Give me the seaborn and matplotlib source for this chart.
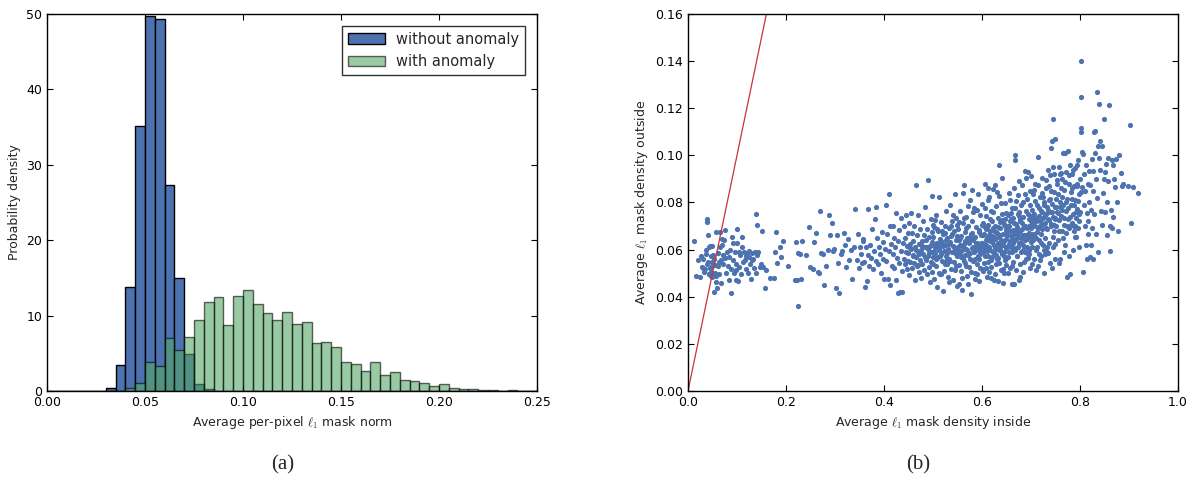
import numpy as np
import pandas as pd
import seaborn as sns
import matplotlib
matplotlib.use("Agg")
import matplotlib.pyplot as plt
from matplotlib.patches import Patch

# histogram (a): density per bin of width 0.005 between 0 and 0.25
bin_edges = np.linspace(0.0, 0.25, 51)
without_anomaly = [0, 0, 0, 0, 0, 0, 0.4, 3.4, 13.8, 35.2,
                   49.8, 49.4, 27.3, 15.0, 4.9, 0.9, 0.3, 0, 0, 0,
                   0, 0, 0, 0, 0, 0, 0, 0, 0, 0,
                   0, 0, 0, 0, 0, 0, 0, 0, 0, 0,
                   0, 0, 0, 0, 0, 0, 0, 0, 0, 0]
with_anomaly = [0, 0, 0, 0, 0, 0, 0, 0, 0.4, 1.1,
                3.9, 3.3, 7.0, 5.4, 7.1, 9.4, 11.8, 12.5, 8.8, 12.6,
                13.4, 11.6, 10.4, 9.4, 10.5, 8.9, 9.2, 6.4, 6.5, 5.9,
                3.8, 3.6, 2.6, 3.9, 2.1, 2.5, 1.5, 1.3, 1.0, 0.7,
                0.9, 0.4, 0.3, 0.3, 0.1, 0.15, 0.05, 0.15, 0.05, 0]

pts_000 = [(0.013, 0.0635), (0.016, 0.0490), (0.024, 0.0484), (0.030, 0.0562), (0.031, 0.0523),
           (0.035, 0.0518), (0.038, 0.0729), (0.038, 0.0716), (0.040, 0.0664), (0.041, 0.0549),
           (0.042, 0.0612), (0.043, 0.0496), (0.045, 0.0614), (0.046, 0.0488), (0.047, 0.0507),
           (0.048, 0.0617), (0.049, 0.0482), (0.050, 0.0530), (0.044, 0.0521), (0.036, 0.0600),
           (0.027, 0.0575), (0.020, 0.0558), (0.033, 0.0505), (0.039, 0.0540), (0.046, 0.0575),
           (0.049, 0.0502), (0.042, 0.0497), (0.048, 0.0548), (0.037, 0.0582), (0.029, 0.0525)]
pts_005 = [(0.052, 0.0577), (0.053, 0.0560), (0.054, 0.0420), (0.055, 0.0533), (0.056, 0.0499),
           (0.057, 0.0462), (0.058, 0.0676), (0.058, 0.0489), (0.060, 0.0437), (0.061, 0.0531),
           (0.062, 0.0587), (0.063, 0.0498), (0.064, 0.0549), (0.065, 0.0675), (0.066, 0.0609),
           (0.067, 0.0555), (0.068, 0.0460), (0.069, 0.0647), (0.070, 0.0619), (0.071, 0.0579),
           (0.072, 0.0538), (0.074, 0.0640), (0.075, 0.0682), (0.076, 0.0566), (0.078, 0.0499),
           (0.080, 0.0589), (0.081, 0.0532), (0.083, 0.0568), (0.084, 0.0471), (0.086, 0.0600),
           (0.087, 0.0516), (0.088, 0.0416), (0.090, 0.0655), (0.091, 0.0626), (0.092, 0.0556),
           (0.094, 0.0500), (0.095, 0.0592), (0.097, 0.0472), (0.098, 0.0540), (0.099, 0.0515)]
pts_010 = [(0.100, 0.0686), (0.101, 0.0628), (0.102, 0.0466), (0.104, 0.0590), (0.105, 0.0528),
           (0.107, 0.0579), (0.108, 0.0495), (0.110, 0.0654), (0.111, 0.0611), (0.112, 0.0548),
           (0.114, 0.0592), (0.116, 0.0558), (0.118, 0.0573), (0.119, 0.0516), (0.120, 0.0585),
           (0.122, 0.0502), (0.124, 0.0596), (0.125, 0.0567), (0.127, 0.0538), (0.128, 0.0474),
           (0.130, 0.0554), (0.131, 0.0586), (0.133, 0.0562), (0.135, 0.0520), (0.137, 0.0588),
           (0.138, 0.0499), (0.139, 0.0752), (0.140, 0.0703), (0.141, 0.0577), (0.143, 0.0589),
           (0.146, 0.0527), (0.149, 0.0540)]
pts_015 = [(0.152, 0.0680), (0.154, 0.0525), (0.157, 0.0435), (0.160, 0.0514), (0.168, 0.0480),
           (0.176, 0.0478), (0.178, 0.0592), (0.180, 0.0676), (0.182, 0.0543), (0.188, 0.0612),
           (0.190, 0.0570), (0.193, 0.0638),
           (0.205, 0.0530), (0.218, 0.0473), (0.220, 0.0632), (0.222, 0.0469), (0.224, 0.0362),
           (0.225, 0.0586), (0.228, 0.0580), (0.230, 0.0477), (0.232, 0.0638), (0.240, 0.0576),
           (0.246, 0.0694), (0.248, 0.0526)]
pts_025 = [(0.255, 0.0518), (0.258, 0.0633), (0.262, 0.0672), (0.265, 0.0505), (0.268, 0.0500),
           (0.270, 0.0764), (0.272, 0.0586), (0.275, 0.0583), (0.278, 0.0448), (0.282, 0.0529),
           (0.285, 0.0600), (0.287, 0.0745), (0.290, 0.0663), (0.293, 0.0711), (0.296, 0.0594),
           (0.298, 0.0602),
           (0.302, 0.0435), (0.304, 0.0660), (0.306, 0.0542), (0.309, 0.0418), (0.312, 0.0583),
           (0.315, 0.0595), (0.318, 0.0672), (0.320, 0.0620), (0.323, 0.0526), (0.326, 0.0644),
           (0.328, 0.0556), (0.332, 0.0599), (0.335, 0.0476), (0.338, 0.0610), (0.341, 0.0774),
           (0.344, 0.0555), (0.347, 0.0668), (0.349, 0.0520)]
pts_035 = [(0.351, 0.0612), (0.353, 0.0580), (0.355, 0.0545), (0.357, 0.0646), (0.358, 0.0636),
           (0.360, 0.0548), (0.361, 0.0442), (0.363, 0.0609), (0.365, 0.0468), (0.367, 0.0576),
           (0.368, 0.0773), (0.370, 0.0532), (0.372, 0.0620), (0.374, 0.0564), (0.376, 0.0687),
           (0.377, 0.0519), (0.379, 0.0595), (0.381, 0.0728), (0.383, 0.0553), (0.384, 0.0781),
           (0.386, 0.0648), (0.388, 0.0540), (0.390, 0.0610), (0.392, 0.0580), (0.394, 0.0500),
           (0.395, 0.0675), (0.397, 0.0631), (0.399, 0.0562)]
pts_040 = [(0.401, 0.0477), (0.402, 0.0603), (0.404, 0.0791), (0.405, 0.0551), (0.407, 0.0666),
           (0.408, 0.0476), (0.410, 0.0838), (0.411, 0.0594), (0.412, 0.0700), (0.413, 0.0449),
           (0.415, 0.0624), (0.416, 0.0532), (0.418, 0.0702), (0.419, 0.0583), (0.420, 0.0650),
           (0.421, 0.0522), (0.423, 0.0612), (0.424, 0.0473), (0.425, 0.0757), (0.426, 0.0565),
           (0.428, 0.0417), (0.429, 0.0638), (0.430, 0.0545), (0.431, 0.0682), (0.432, 0.0420),
           (0.434, 0.0595), (0.435, 0.0734), (0.436, 0.0508), (0.437, 0.0419), (0.438, 0.0626),
           (0.440, 0.0560), (0.441, 0.0700), (0.442, 0.0538), (0.443, 0.0648), (0.444, 0.0589),
           (0.445, 0.0746), (0.446, 0.0517), (0.447, 0.0616), (0.448, 0.0552), (0.449, 0.0670)]
pts_045 = [(0.450, 0.0586), (0.451, 0.0711), (0.452, 0.0493), (0.453, 0.0623), (0.454, 0.0548),
           (0.455, 0.0755), (0.456, 0.0603), (0.457, 0.0521), (0.458, 0.0672), (0.459, 0.0577),
           (0.460, 0.0638), (0.461, 0.0545), (0.462, 0.0701), (0.463, 0.0469), (0.464, 0.0612),
           (0.465, 0.0567), (0.466, 0.0874), (0.467, 0.0532), (0.468, 0.0660), (0.469, 0.0591),
           (0.470, 0.0748), (0.471, 0.0504), (0.472, 0.0625), (0.473, 0.0558), (0.474, 0.0689),
           (0.475, 0.0478), (0.476, 0.0597), (0.477, 0.0637), (0.478, 0.0540), (0.479, 0.0720),
           (0.480, 0.0582), (0.481, 0.0662), (0.482, 0.0512), (0.483, 0.0609), (0.484, 0.0783),
           (0.485, 0.0556), (0.486, 0.0640), (0.487, 0.0495), (0.488, 0.0687), (0.489, 0.0574),
           (0.490, 0.0896), (0.490, 0.0603), (0.491, 0.0528), (0.492, 0.0652), (0.493, 0.0461),
           (0.494, 0.0617), (0.495, 0.0730), (0.495, 0.0549), (0.496, 0.0588), (0.497, 0.0676),
           (0.497, 0.0505), (0.498, 0.0632), (0.498, 0.0826), (0.499, 0.0567), (0.499, 0.0705),
           (0.466, 0.0598), (0.472, 0.0580), (0.478, 0.0616), (0.484, 0.0568), (0.488, 0.0612),
           (0.492, 0.0584), (0.496, 0.0620), (0.460, 0.0573), (0.454, 0.0608), (0.470, 0.0535)]
pts_050 = [(0.500, 0.0655), (0.501, 0.0540), (0.502, 0.0698), (0.503, 0.0476), (0.504, 0.0612),
           (0.505, 0.0587), (0.506, 0.0749), (0.507, 0.0531), (0.508, 0.0630), (0.509, 0.0442),
           (0.510, 0.0681), (0.511, 0.0568), (0.512, 0.0605), (0.513, 0.0823), (0.514, 0.0497),
           (0.515, 0.0644), (0.516, 0.0581), (0.517, 0.0719), (0.518, 0.0553), (0.519, 0.0626),
           (0.520, 0.0425), (0.521, 0.0667), (0.522, 0.0594), (0.523, 0.0510), (0.524, 0.0702),
           (0.525, 0.0618), (0.526, 0.0575), (0.527, 0.0764), (0.528, 0.0537), (0.529, 0.0649),
           (0.530, 0.0485), (0.531, 0.0601), (0.532, 0.0690), (0.533, 0.0560), (0.534, 0.0633),
           (0.535, 0.0791), (0.536, 0.0519), (0.537, 0.0658), (0.538, 0.0589), (0.539, 0.0722),
           (0.540, 0.0470), (0.541, 0.0614), (0.542, 0.0677), (0.543, 0.0546), (0.544, 0.0600),
           (0.545, 0.0838), (0.546, 0.0529), (0.547, 0.0642), (0.548, 0.0572), (0.549, 0.0706),
           (0.550, 0.0444), (0.502, 0.0593), (0.506, 0.0562), (0.510, 0.0620), (0.514, 0.0574),
           (0.518, 0.0680), (0.522, 0.0548), (0.526, 0.0640), (0.530, 0.0597), (0.534, 0.0552),
           (0.538, 0.0666), (0.542, 0.0610), (0.546, 0.0583), (0.504, 0.0725), (0.512, 0.0502),
           (0.520, 0.0615), (0.528, 0.0585), (0.536, 0.0699), (0.544, 0.0512), (0.548, 0.0656),
           (0.508, 0.0566), (0.516, 0.0636), (0.524, 0.0540), (0.532, 0.0625), (0.540, 0.0588),
           (0.547, 0.0735), (0.501, 0.0628), (0.509, 0.0688), (0.517, 0.0495), (0.525, 0.0672),
           (0.533, 0.0461), (0.541, 0.0748), (0.549, 0.0600), (0.513, 0.0600), (0.529, 0.0560)]
pts_055 = [(0.551, 0.0612), (0.552, 0.0687), (0.553, 0.0535), (0.554, 0.0640), (0.555, 0.0582),
           (0.556, 0.0762), (0.557, 0.0510), (0.558, 0.0659), (0.559, 0.0597), (0.560, 0.0428),
           (0.561, 0.0711), (0.562, 0.0566), (0.563, 0.0624), (0.564, 0.0873), (0.565, 0.0544),
           (0.566, 0.0676), (0.567, 0.0603), (0.568, 0.0738), (0.569, 0.0487), (0.570, 0.0648),
           (0.571, 0.0579), (0.572, 0.0700), (0.573, 0.0525), (0.574, 0.0630), (0.575, 0.0810),
           (0.576, 0.0561), (0.577, 0.0668), (0.578, 0.0410), (0.579, 0.0606), (0.580, 0.0722),
           (0.581, 0.0553), (0.582, 0.0641), (0.583, 0.0588), (0.584, 0.0776), (0.585, 0.0500),
           (0.586, 0.0655), (0.587, 0.0617), (0.588, 0.0695), (0.589, 0.0540), (0.590, 0.0630),
           (0.591, 0.0837), (0.592, 0.0573), (0.593, 0.0682), (0.594, 0.0466), (0.595, 0.0614),
           (0.596, 0.0747), (0.597, 0.0592), (0.598, 0.0663), (0.599, 0.0518), (0.600, 0.0706),
           (0.552, 0.0595), (0.555, 0.0650), (0.558, 0.0570), (0.561, 0.0615), (0.564, 0.0553),
           (0.567, 0.0690), (0.570, 0.0600), (0.573, 0.0642), (0.576, 0.0585), (0.579, 0.0671),
           (0.582, 0.0610), (0.585, 0.0560), (0.588, 0.0629), (0.591, 0.0597), (0.594, 0.0675),
           (0.597, 0.0630), (0.554, 0.0718), (0.559, 0.0479), (0.563, 0.0736), (0.568, 0.0530),
           (0.572, 0.0784), (0.577, 0.0505), (0.581, 0.0758), (0.586, 0.0475), (0.590, 0.0770),
           (0.595, 0.0520), (0.599, 0.0795), (0.556, 0.0620), (0.566, 0.0579), (0.575, 0.0655),
           (0.584, 0.0602), (0.593, 0.0560), (0.598, 0.0611), (0.553, 0.0455), (0.562, 0.0840),
           (0.571, 0.0452), (0.580, 0.0853), (0.589, 0.0497), (0.596, 0.0580), (0.565, 0.0637)]
pts_060 = [(0.601, 0.0630), (0.602, 0.0588), (0.603, 0.0712), (0.604, 0.0545), (0.605, 0.0667),
           (0.606, 0.0879), (0.607, 0.0602), (0.608, 0.0744), (0.609, 0.0521), (0.610, 0.0648),
           (0.611, 0.0696), (0.612, 0.0575), (0.613, 0.0810), (0.614, 0.0613), (0.615, 0.0503),
           (0.616, 0.0680), (0.617, 0.0635), (0.618, 0.0766), (0.619, 0.0558), (0.620, 0.0657),
           (0.621, 0.0721), (0.622, 0.0590), (0.623, 0.0858), (0.624, 0.0619), (0.625, 0.0470),
           (0.626, 0.0700), (0.627, 0.0643), (0.628, 0.0541), (0.629, 0.0785), (0.630, 0.0608),
           (0.631, 0.0672), (0.632, 0.0736), (0.633, 0.0565), (0.634, 0.0652), (0.635, 0.0828),
           (0.636, 0.0597), (0.637, 0.0690), (0.638, 0.0512), (0.639, 0.0624), (0.640, 0.0752),
           (0.641, 0.0580), (0.642, 0.0665), (0.643, 0.0460), (0.644, 0.0708), (0.645, 0.0638),
           (0.646, 0.0554), (0.647, 0.0796), (0.648, 0.0612), (0.649, 0.0685), (0.650, 0.0533),
           (0.602, 0.0660), (0.604, 0.0620), (0.606, 0.0575), (0.608, 0.0640), (0.610, 0.0593),
           (0.612, 0.0705), (0.614, 0.0660), (0.616, 0.0600), (0.618, 0.0645), (0.620, 0.0570),
           (0.622, 0.0690), (0.624, 0.0655), (0.626, 0.0612), (0.628, 0.0676), (0.630, 0.0560),
           (0.632, 0.0627), (0.634, 0.0598), (0.636, 0.0716), (0.638, 0.0640), (0.640, 0.0585),
           (0.642, 0.0620), (0.644, 0.0575), (0.646, 0.0700), (0.648, 0.0645), (0.650, 0.0605),
           (0.603, 0.0509), (0.607, 0.0778), (0.611, 0.0485), (0.615, 0.0825), (0.619, 0.0528),
           (0.623, 0.0760), (0.627, 0.0495), (0.631, 0.0845), (0.635, 0.0545), (0.639, 0.0799),
           (0.643, 0.0517), (0.647, 0.0731), (0.605, 0.0700), (0.609, 0.0618), (0.613, 0.0548),
           (0.617, 0.0730), (0.621, 0.0632), (0.625, 0.0680), (0.629, 0.0578), (0.633, 0.0694),
           (0.637, 0.0612), (0.641, 0.0725), (0.645, 0.0590), (0.649, 0.0755), (0.612, 0.0862),
           (0.626, 0.0873), (0.640, 0.0902), (0.634, 0.0961), (0.618, 0.0478), (0.632, 0.0467),
           (0.644, 0.0500), (0.636, 0.0660), (0.624, 0.0595), (0.608, 0.0688), (0.648, 0.0563)]
pts_065 = [(0.651, 0.0680), (0.652, 0.0612), (0.653, 0.0745), (0.654, 0.0567), (0.655, 0.0700),
           (0.656, 0.0842), (0.657, 0.0635), (0.658, 0.0520), (0.659, 0.0728), (0.660, 0.0659),
           (0.661, 0.0590), (0.662, 0.0776), (0.663, 0.0682), (0.664, 0.0548), (0.665, 0.0714),
           (0.666, 0.0455), (0.667, 0.1002), (0.667, 0.0980), (0.668, 0.0640), (0.669, 0.0806),
           (0.670, 0.0605), (0.671, 0.0695), (0.672, 0.0573), (0.673, 0.0752), (0.674, 0.0668),
           (0.675, 0.0890), (0.676, 0.0628), (0.677, 0.0540), (0.678, 0.0720), (0.679, 0.0651),
           (0.680, 0.0788), (0.681, 0.0595), (0.682, 0.0687), (0.683, 0.0505), (0.684, 0.0740),
           (0.685, 0.0660), (0.686, 0.0612), (0.687, 0.0836), (0.688, 0.0700), (0.689, 0.0560),
           (0.690, 0.0763), (0.691, 0.0644), (0.692, 0.0690), (0.693, 0.0930), (0.694, 0.0583),
           (0.695, 0.0729), (0.696, 0.0672), (0.697, 0.0520), (0.698, 0.0790), (0.699, 0.0633),
           (0.652, 0.0660), (0.654, 0.0702), (0.656, 0.0625), (0.658, 0.0680), (0.660, 0.0612),
           (0.662, 0.0650), (0.664, 0.0735), (0.666, 0.0665), (0.668, 0.0598), (0.670, 0.0710),
           (0.672, 0.0650), (0.674, 0.0612), (0.676, 0.0742), (0.678, 0.0680), (0.680, 0.0630),
           (0.682, 0.0715), (0.684, 0.0660), (0.686, 0.0702), (0.688, 0.0640), (0.690, 0.0695),
           (0.692, 0.0612), (0.694, 0.0750), (0.696, 0.0700), (0.698, 0.0655), (0.700, 0.0720),
           (0.653, 0.0500), (0.657, 0.0812), (0.661, 0.0530), (0.665, 0.0860), (0.669, 0.0512),
           (0.673, 0.0830), (0.677, 0.0485), (0.681, 0.0875), (0.685, 0.0548), (0.689, 0.0905),
           (0.693, 0.0565), (0.697, 0.0850), (0.655, 0.0588), (0.659, 0.0756), (0.663, 0.0605),
           (0.667, 0.0778), (0.671, 0.0575), (0.675, 0.0760), (0.679, 0.0592), (0.683, 0.0800),
           (0.687, 0.0592), (0.691, 0.0816), (0.695, 0.0600), (0.699, 0.0743), (0.662, 0.0455),
           (0.676, 0.0470), (0.688, 0.0935), (0.700, 0.0912), (0.658, 0.0720), (0.684, 0.0620),
           (0.696, 0.0580), (0.670, 0.0683), (0.678, 0.0731), (0.690, 0.0662), (0.664, 0.0626)]
pts_070 = [(0.701, 0.0690), (0.702, 0.0770), (0.703, 0.0612), (0.704, 0.0835), (0.705, 0.0705),
           (0.706, 0.0560), (0.707, 0.0750), (0.708, 0.0655), (0.709, 0.0880), (0.710, 0.0720),
           (0.711, 0.0598), (0.712, 0.0790), (0.713, 0.0676), (0.714, 0.0530), (0.715, 0.0995),
           (0.716, 0.0742), (0.717, 0.0640), (0.718, 0.0822), (0.719, 0.0700), (0.720, 0.0575),
           (0.721, 0.0765), (0.722, 0.0688), (0.723, 0.0905), (0.724, 0.0620), (0.725, 0.0735),
           (0.726, 0.0500), (0.727, 0.0802), (0.728, 0.0712), (0.729, 0.0650), (0.730, 0.0860),
           (0.731, 0.0752), (0.732, 0.0592), (0.733, 0.0688), (0.734, 0.0940), (0.735, 0.0770),
           (0.736, 0.0630), (0.737, 0.0725), (0.738, 0.0545), (0.739, 0.0815), (0.740, 0.1030),
           (0.741, 0.0700), (0.742, 0.1060), (0.743, 0.0760), (0.744, 0.0612), (0.745, 0.1155),
           (0.746, 0.0845), (0.747, 0.0680), (0.748, 0.1070), (0.749, 0.0735), (0.750, 0.0560),
           (0.702, 0.0712), (0.704, 0.0665), (0.706, 0.0735), (0.708, 0.0700), (0.710, 0.0650),
           (0.712, 0.0735), (0.714, 0.0690), (0.716, 0.0775), (0.718, 0.0720), (0.720, 0.0668),
           (0.722, 0.0760), (0.724, 0.0710), (0.726, 0.0790), (0.728, 0.0745), (0.730, 0.0692),
           (0.732, 0.0780), (0.734, 0.0728), (0.736, 0.0812), (0.738, 0.0760), (0.740, 0.0708),
           (0.742, 0.0795), (0.744, 0.0740), (0.746, 0.0705), (0.748, 0.0780), (0.750, 0.0728),
           (0.703, 0.0540), (0.707, 0.0855), (0.711, 0.0515), (0.715, 0.0875), (0.719, 0.0555),
           (0.723, 0.0842), (0.727, 0.0600), (0.731, 0.0895), (0.735, 0.0585), (0.739, 0.0915),
           (0.743, 0.0520), (0.747, 0.0920), (0.705, 0.0640), (0.713, 0.0612), (0.721, 0.0630),
           (0.729, 0.0582), (0.737, 0.0870), (0.745, 0.0655), (0.709, 0.0805), (0.725, 0.0825),
           (0.733, 0.0612), (0.741, 0.0850), (0.749, 0.0625), (0.717, 0.0580), (0.744, 0.0950)]
pts_075 = [(0.751, 0.0815), (0.752, 0.0700), (0.753, 0.0878), (0.754, 0.0760), (0.755, 0.0640),
           (0.756, 0.0835), (0.757, 0.0725), (0.758, 0.0950), (0.759, 0.0780), (0.760, 0.0560),
           (0.761, 0.0860), (0.762, 0.0742), (0.763, 0.0680), (0.764, 0.0900), (0.765, 0.1010),
           (0.766, 0.0790), (0.767, 0.0705), (0.768, 0.0855), (0.769, 0.0620), (0.770, 0.1012),
           (0.771, 0.0765), (0.772, 0.0930), (0.773, 0.0485), (0.774, 0.0815), (0.775, 0.1020),
           (0.776, 0.0730), (0.777, 0.0880), (0.778, 0.0690), (0.779, 0.0960), (0.780, 0.0495),
           (0.781, 0.0790), (0.782, 0.0845), (0.783, 0.0712), (0.784, 0.0920), (0.785, 0.0750),
           (0.786, 0.0600), (0.787, 0.0870), (0.788, 0.0700), (0.789, 0.0810), (0.790, 0.0945),
           (0.791, 0.0735), (0.792, 0.0655), (0.793, 0.0880), (0.794, 0.0772), (0.795, 0.0980),
           (0.796, 0.0690), (0.797, 0.0838), (0.798, 0.0612), (0.799, 0.0900), (0.800, 0.0760),
           (0.752, 0.0780), (0.756, 0.0755), (0.760, 0.0800), (0.764, 0.0770), (0.768, 0.0735),
           (0.772, 0.0800), (0.776, 0.0775), (0.780, 0.0740), (0.784, 0.0815), (0.788, 0.0790),
           (0.792, 0.0760), (0.796, 0.0805), (0.754, 0.0895), (0.758, 0.0680), (0.762, 0.0925),
           (0.766, 0.0650), (0.770, 0.0885), (0.774, 0.0700), (0.778, 0.0915), (0.782, 0.0705),
           (0.786, 0.0940), (0.790, 0.0700), (0.794, 0.0870), (0.798, 0.0720), (0.757, 0.0545),
           (0.767, 0.0590), (0.777, 0.0575), (0.787, 0.0680), (0.797, 0.0750), (0.763, 0.0825),
           (0.783, 0.0860), (0.793, 0.0960), (0.759, 0.0920), (0.771, 0.0670), (0.789, 0.0655)]
pts_080 = [(0.802, 0.1400), (0.802, 0.1248), (0.803, 0.1115), (0.803, 0.1098), (0.804, 0.1015),
           (0.805, 0.0865), (0.806, 0.1005), (0.807, 0.0505), (0.808, 0.0790), (0.809, 0.0920),
           (0.810, 0.0700), (0.811, 0.0850), (0.812, 0.0618), (0.813, 0.0960), (0.814, 0.0755),
           (0.815, 0.0560), (0.816, 0.0880), (0.817, 0.0720), (0.818, 0.0935), (0.819, 0.0800),
           (0.820, 0.0570), (0.821, 0.0875), (0.822, 0.0620), (0.823, 0.0770), (0.824, 0.0985),
           (0.825, 0.0690), (0.826, 0.0850), (0.827, 0.0560), (0.828, 0.1100), (0.829, 0.0750),
           (0.830, 0.1105), (0.831, 0.1010), (0.832, 0.0900), (0.833, 0.0665), (0.834, 0.0820),
           (0.835, 0.1270), (0.836, 0.1040), (0.837, 0.0590), (0.838, 0.1220), (0.839, 0.0990),
           (0.840, 0.1060), (0.841, 0.0940), (0.843, 0.0765), (0.845, 0.1040), (0.847, 0.0840),
           (0.848, 0.1155), (0.849, 0.0900), (0.803, 0.0845), (0.817, 0.0665), (0.826, 0.0935),
           (0.844, 0.0705)]
pts_085 = [(0.851, 0.0930), (0.852, 0.0760), (0.853, 0.0965), (0.855, 0.0800), (0.856, 0.0660),
           (0.858, 0.0890), (0.860, 0.1212), (0.861, 0.0595), (0.862, 0.0700), (0.864, 0.0770),
           (0.865, 0.0980), (0.867, 0.0960), (0.868, 0.0740), (0.870, 0.0900), (0.872, 0.0865),
           (0.874, 0.0985), (0.876, 0.0800), (0.878, 0.0680), (0.880, 0.1000), (0.883, 0.0925),
           (0.886, 0.0870), (0.888, 0.0880), (0.857, 0.0990), (0.866, 0.0690),
           (0.898, 0.0870), (0.903, 0.1130), (0.904, 0.0715), (0.908, 0.0865), (0.918, 0.0842)]

identity_line = [0.0, 1.0]

BLUE = "#4C72B0"
GREEN = "#55A868"

sns.set_style("ticks")
plt.rcParams["font.family"] = ["DejaVu Sans"]
plt.rcParams["mathtext.fontset"] = "cm"
plt.rcParams.update({
    "xtick.direction": "in", "ytick.direction": "in",
    "xtick.top": True, "ytick.right": True,
    "xtick.major.size": 4, "ytick.major.size": 4,
    "axes.edgecolor": "black", "axes.linewidth": 1.0,
    "xtick.color": "black", "ytick.color": "black",
    "xtick.labelsize": 9, "ytick.labelsize": 9, "axes.labelsize": 9,
})

fig = plt.figure(figsize=(11.94, 4.83), dpi=100)
ax1 = fig.add_axes([0.0394, 0.1905, 0.4104, 0.7805])
ax2 = fig.add_axes([0.5762, 0.1905, 0.4104, 0.7805])

# --- (a) histogram
hist_df = pd.DataFrame({
    "center": (bin_edges[:-1] + bin_edges[1:]) / 2,
    "without": without_anomaly,
    "with": with_anomaly,
})
edges = bin_edges.tolist()
sns.histplot(data=hist_df, x="center", weights="without", bins=edges, stat="count",
             color=BLUE, alpha=1.0, edgecolor="black", linewidth=1.0, ax=ax1)
sns.histplot(data=hist_df, x="center", weights="with", bins=edges, stat="count",
             color=GREEN, alpha=0.6, edgecolor=(0, 0, 0, 0.6), linewidth=1.0, ax=ax1)
ax1.set_xlim(0, 0.25)
ax1.set_ylim(0, 50)
ax1.set_xticks([0.0, 0.05, 0.10, 0.15, 0.20, 0.25])
ax1.set_xticklabels(["0.00", "0.05", "0.10", "0.15", "0.20", "0.25"])
ax1.set_yticks([0, 10, 20, 30, 40, 50])
ax1.set_xlabel(r"Average per-pixel $\ell_1$ mask norm")
ax1.set_ylabel("Probability density")
handles = [Patch(facecolor=BLUE, edgecolor="black", label="without anomaly"),
           Patch(facecolor=GREEN, edgecolor="black", alpha=0.6, label="with anomaly")]
leg = ax1.legend(handles=handles, loc="upper right", fontsize=10.5, fancybox=False,
                 frameon=True, borderaxespad=0.8, handlelength=2.5)
leg.get_frame().set_edgecolor("black")
leg.get_frame().set_linewidth(1.0)

# --- (b) scatter
scatter_pts = (pts_000 + pts_005 + pts_010 + pts_015 + pts_025 + pts_035 + pts_040 + pts_045
               + pts_050 + pts_055 + pts_060 + pts_065 + pts_070 + pts_075 + pts_080 + pts_085)
df = pd.DataFrame(scatter_pts, columns=["inside", "outside"])
sns.scatterplot(data=df, x="inside", y="outside", color=BLUE, s=14, linewidth=0, ax=ax2)
sns.lineplot(x=identity_line, y=identity_line, color="#cc3333", linewidth=0.9, ax=ax2)
ax2.set_xlim(0, 1.0)
ax2.set_ylim(0, 0.16)
ax2.set_xticks([0.0, 0.2, 0.4, 0.6, 0.8, 1.0])
ax2.set_yticks([0.00, 0.02, 0.04, 0.06, 0.08, 0.10, 0.12, 0.14, 0.16])
ax2.set_yticklabels(["0.00", "0.02", "0.04", "0.06", "0.08", "0.10", "0.12", "0.14", "0.16"])
ax2.set_xlabel(r"Average $\ell_1$ mask density inside")
ax2.set_ylabel(r"Average $\ell_1$ mask density outside")

for ax in (ax1, ax2):
    for side in ax.spines.values():
        side.set_visible(True)

fig.text(0.237, 0.037, "(a)", ha="center", va="center", fontsize=15, family="Liberation Serif")
fig.text(0.769, 0.037, "(b)", ha="center", va="center", fontsize=15, family="Liberation Serif")

fig.savefig("out.png", dpi=100)
